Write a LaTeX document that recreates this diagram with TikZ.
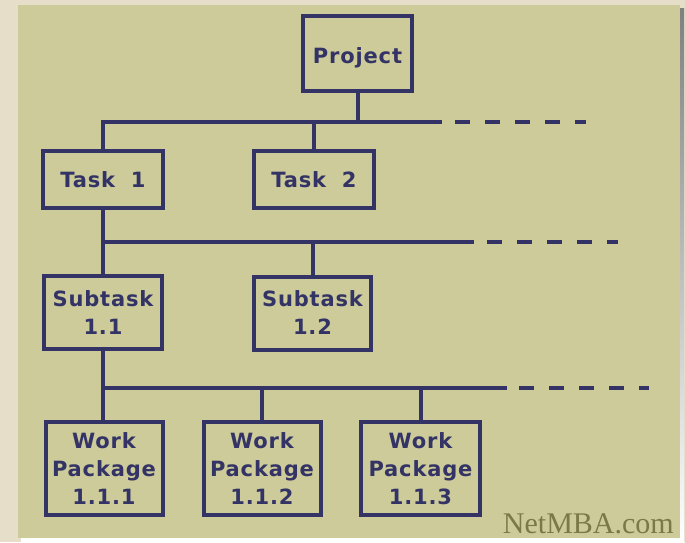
\documentclass[tikz,border=0pt]{standalone}
\usepackage{fontspec}
\setmainfont{DejaVu Sans}
\newfontfamily\boxfont[LetterSpace=4]{DejaVu Sans Bold}
\newfontfamily\logofont{Liberation Serif}
\definecolor{outerbg}{HTML}{E6DEC9}
\definecolor{panel}{HTML}{CCCB99}
\definecolor{shade}{HTML}{9C9A6A}
\definecolor{navy}{HTML}{333366}
\definecolor{logo}{HTML}{7B7947}
\begin{document}
\begin{tikzpicture}[x=1pt,y=-1pt,
  wbs/.style={draw=navy, line width=4pt, text=navy, align=center,
    font=\boxfont\fontsize{21}{28}\selectfont, inner sep=0pt, outer sep=0pt},
  link/.style={draw=navy, line width=4pt},
  more/.style={draw=navy, line width=4pt, dash pattern=on 15pt off 15pt}]
\useasboundingbox (0,0) rectangle (685,542);
\fill[outerbg] (0,0) rectangle (685,542);
\fill[shade] (21,8) rectangle (684,541);
\fill[panel] (18,5) rectangle (680,538);

\node[wbs, minimum width=109pt, minimum height=75pt, text depth=0pt] (p) at (357.5,53.5) {\raisebox{-5pt}{Project}};
\node[wbs, minimum width=120pt, minimum height=57pt] (t1) at (103,179.5) {Task\hspace{0.75em}1};
\node[wbs, minimum width=120pt, minimum height=57pt] (t2) at (314,179.5) {Task\hspace{0.75em}2};
\node[wbs, minimum width=118pt, minimum height=73pt] (s1) at (103,312.5) {Subtask\\1.1};
\node[wbs, minimum width=117pt, minimum height=73pt] (s2) at (312.5,313) {Subtask\\1.2};
\node[wbs, minimum width=117pt, minimum height=93pt] (w1) at (104,468.5) {Work\\Package\\1.1.1};
\node[wbs, minimum width=117pt, minimum height=93pt] (w2) at (262,468.5) {Work\\Package\\1.1.2};
\node[wbs, minimum width=119pt, minimum height=93pt] (w3) at (420.5,468.5) {Work\\Package\\1.1.3};

\coordinate (b1) at (442,122);
\coordinate (b1a) at (455,122);
\coordinate (b1b) at (586,122);
\coordinate (b2) at (474,242);
\coordinate (b2a) at (487,242);
\coordinate (b2b) at (618,242);
\coordinate (b3) at (507,388);
\coordinate (b3a) at (519,388);
\coordinate (b3b) at (649,388);

% level 1
\draw[link] (t1.north) |- (b1);
\draw[link] (p.south) -- (p.south |- b1);
\draw[link] (t2.north) -- (t2.north |- b1);
\draw[more] (b1a) -- (b1b);
% level 2
\draw[link] (t1.south) -- (s1.north);
\draw[link] ([xshift=-2pt]t1.south |- b2) -- (b2);
\draw[link] (s2.north) -- (s2.north |- b2);
\draw[more] (b2a) -- (b2b);
% level 3
\draw[link] (s1.south) -- (s1.south |- w1.north);
\draw[link] ([xshift=-2pt]s1.south |- b3) -- (b3);
\draw[link] (w2.north) -- (w2.north |- b3);
\draw[link] (w3.north) -- (w3.north |- b3);
\draw[more] (b3a) -- (b3b);

\node[anchor=base east, text=logo, font=\logofont\fontsize{30}{30}\selectfont, inner sep=0pt] (logo) at (674,533) {NetMBA.com};
\end{tikzpicture}
\end{document}
